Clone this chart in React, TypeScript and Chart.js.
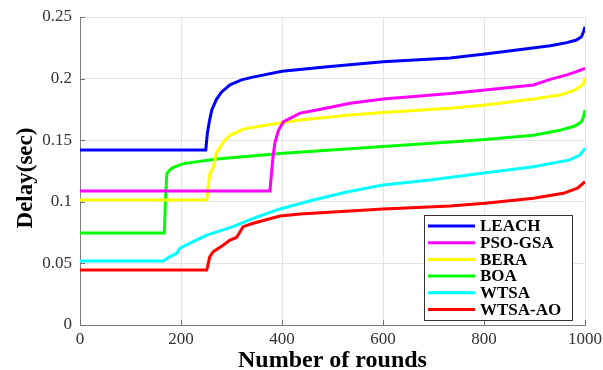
import React, { useEffect, useRef } from "react";
import { Chart, registerables } from "chart.js";

Chart.register(...registerables);

const seriesLabels = ["LEACH", "PSO-GSA", "BERA", "BOA", "WTSA", "WTSA-AO"];
const seriesColors = ["#0000ff", "#ff00ff", "#ffff00", "#00ff00", "#00ffff", "#ff0000"];

const leachRounds = [0, 249, 252, 256, 261, 270, 280, 297, 320, 340, 400, 490, 600, 733, 802, 865, 931, 964, 983, 993, 997, 1000];
const leachDelay = [0.142, 0.142, 0.155, 0.165, 0.1745, 0.183, 0.189, 0.195, 0.199, 0.201, 0.206, 0.2097, 0.2137, 0.2167, 0.22, 0.2232, 0.2267, 0.2292, 0.2313, 0.234, 0.238, 0.242];

const psoRounds = [0, 376, 379, 382, 386, 393, 403, 436, 469, 535, 600, 733, 802, 898, 931, 964, 983, 1000];
const psoDelay = [0.1088, 0.1088, 0.122, 0.136, 0.148, 0.158, 0.165, 0.172, 0.1745, 0.18, 0.1834, 0.188, 0.1907, 0.1948, 0.1994, 0.203, 0.2056, 0.2083];

const beraRounds = [0, 251, 254, 257, 264, 270, 284, 297, 323, 370, 436, 535, 600, 733, 802, 898, 950, 980, 990, 997, 1000];
const beraDelay = [0.1015, 0.1015, 0.113, 0.123, 0.128, 0.1395, 0.1485, 0.154, 0.159, 0.1623, 0.1664, 0.1705, 0.1725, 0.176, 0.1786, 0.1834, 0.1867, 0.1907, 0.1934, 0.196, 0.2005];

const boaRounds = [0, 167, 169, 172, 178, 185, 205, 271, 403, 600, 733, 802, 898, 950, 980, 993, 997, 1000];
const boaDelay = [0.0747, 0.0747, 0.1, 0.123, 0.126, 0.128, 0.131, 0.1347, 0.1395, 0.1448, 0.1485, 0.1505, 0.154, 0.158, 0.1615, 0.165, 0.169, 0.1745];

const wtsaRounds = [0, 165, 178, 191, 198, 224, 251, 303, 343, 396, 462, 528, 600, 693, 792, 898, 970, 990, 1000];
const wtsaDelay = [0.052, 0.052, 0.0555, 0.058, 0.0624, 0.0676, 0.073, 0.0798, 0.0866, 0.0942, 0.1015, 0.108, 0.1136, 0.1177, 0.123, 0.1285, 0.134, 0.138, 0.1434];

const wtsaAoRounds = [0, 251, 254, 257, 264, 284, 297, 310, 317, 323, 343, 396, 436, 600, 733, 802, 898, 957, 985, 1000];
const wtsaAoDelay = [0.0446, 0.0446, 0.05, 0.0555, 0.0595, 0.065, 0.069, 0.071, 0.0757, 0.0798, 0.0826, 0.0885, 0.09, 0.0942, 0.0966, 0.0988, 0.1028, 0.1069, 0.111, 0.1163];

const allRounds = [leachRounds, psoRounds, beraRounds, boaRounds, wtsaRounds, wtsaAoRounds];
const allDelays = [leachDelay, psoDelay, beraDelay, boaDelay, wtsaDelay, wtsaAoDelay];

const xTitle = "Number of rounds";
const yTitle = "Delay(sec)";

const SERIF = "'Times New Roman', 'Liberation Serif', serif";

const decorPlugin = {
  id: "decor",
  afterDatasetsDraw(chart: any) {
    const ctx = chart.ctx;
    const area = chart.chartArea;
    const xs = chart.scales.x;
    const ys = chart.scales.y;
    ctx.save();
    // inward ticks
    ctx.strokeStyle = "#707070";
    ctx.lineWidth = 1;
    xs.ticks.forEach((t: any) => {
      const px = Math.round(xs.getPixelForValue(t.value)) + 0.5;
      ctx.beginPath();
      ctx.moveTo(px, area.bottom);
      ctx.lineTo(px, area.bottom - 5);
      ctx.stroke();
    });
    ys.ticks.forEach((t: any) => {
      const py = Math.round(ys.getPixelForValue(t.value)) + 0.5;
      ctx.beginPath();
      ctx.moveTo(area.left, py);
      ctx.lineTo(area.left + 5, py);
      ctx.stroke();
    });
    // legend box
    const bx = 424, by = 215, bw = 148, bh = 105;
    ctx.fillStyle = "#ffffff";
    ctx.fillRect(bx, by, bw, bh);
    ctx.strokeStyle = "#333333";
    ctx.lineWidth = 1;
    ctx.strokeRect(bx + 0.5, by + 0.5, bw, bh);
    ctx.font = `bold 17px ${SERIF}`;
    ctx.textBaseline = "middle";
    ctx.textAlign = "left";
    chart.data.datasets.forEach((ds: any, i: number) => {
      const cy = by + 11 + i * 16.7;
      ctx.strokeStyle = ds.borderColor;
      ctx.lineWidth = 3;
      ctx.beginPath();
      ctx.moveTo(bx + 4, cy);
      ctx.lineTo(bx + 51, cy);
      ctx.stroke();
      ctx.fillStyle = "#000000";
      ctx.fillText(ds.label, bx + 56, cy + 1);
    });
    // axis titles
    ctx.fillStyle = "#000000";
    ctx.font = `bold 24px ${SERIF}`;
    ctx.textAlign = "center";
    ctx.textBaseline = "alphabetic";
    ctx.fillText(xTitle, (area.left + area.right) / 2, 367);
    ctx.save();
    ctx.translate(26, 178);
    ctx.rotate(-Math.PI / 2);
    ctx.font = `bold 23px ${SERIF}`;
    ctx.textBaseline = "middle";
    ctx.fillText(yTitle, 0, 0);
    ctx.restore();
    ctx.restore();
  },
};

export default function App() {
  const ref = useRef<HTMLCanvasElement | null>(null);
  useEffect(() => {
    if (!ref.current) return;
    const datasets = seriesLabels.map((label, i) => ({
      label,
      data: allRounds[i].map((r, j) => ({ x: r, y: allDelays[i][j] })),
      borderColor: seriesColors[i],
      backgroundColor: seriesColors[i],
      borderWidth: 3,
      pointRadius: 0,
      tension: 0,
      fill: false,
    }));
    const chart = new Chart(ref.current, {
      type: "line",
      data: { datasets },
      options: {
        animation: false,
        responsive: false,
        maintainAspectRatio: false,
        layout: { padding: { left: 0, right: 18, top: 17, bottom: 0 } },
        plugins: { legend: { display: false }, tooltip: { enabled: false }, title: { display: false } },
        scales: {
          x: {
            type: "linear",
            min: 0,
            max: 1000,
            ticks: {
              stepSize: 200,
              color: "#333333",
              font: { family: SERIF, size: 17 },
              padding: 4,
              maxRotation: 0,
              callback: (v: any) => String(Math.round(Number(v))),
            },
            grid: { color: "#e4e4e4", lineWidth: 1, drawTicks: false },
            border: { display: true, color: "#808080", width: 1 },
            afterFit: (s: any) => {
              s.height = 45;
              s.paddingRight = 0;
              s.paddingLeft = 0;
            },
          },
          y: {
            type: "linear",
            min: 0,
            max: 0.25,
            ticks: {
              stepSize: 0.05,
              color: "#333333",
              font: { family: SERIF, size: 17 },
              padding: 8,
              callback: (v: any) => String(Number(Number(v).toFixed(2))),
            },
            grid: { color: "#e4e4e4", lineWidth: 1, drawTicks: false },
            border: { display: true, color: "#808080", width: 1 },
            afterFit: (s: any) => {
              s.width = 80;
              s.paddingTop = 0;
              s.paddingBottom = 0;
            },
          },
        },
      },
      plugins: [decorPlugin],
    } as any);
    return () => chart.destroy();
  }, []);
  return (
    <div style={{ position: "absolute", left: 0, top: 0, width: 603, height: 370, background: "#fff" }}>
      <canvas ref={ref} width={603} height={370} />
    </div>
  );
}
